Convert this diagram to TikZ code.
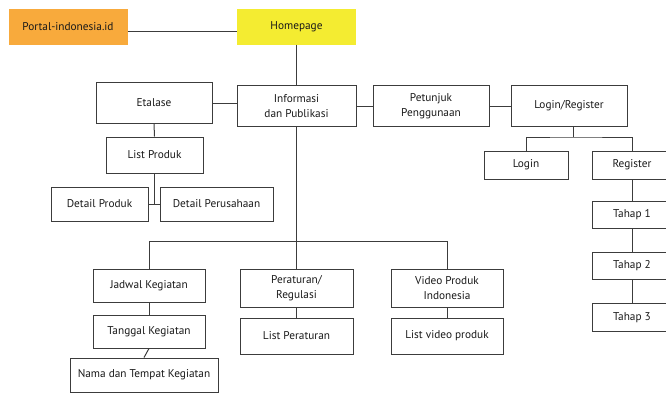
\documentclass[tikz,border=0pt]{standalone}
\usepackage{fontspec}
\setmainfont{PT Sans}
\usetikzlibrary{positioning}
\definecolor{portalorange}{HTML}{F8AA3C}
\definecolor{homeyellow}{HTML}{F4EC31}
\definecolor{linegray}{HTML}{3C3C3C}

\begin{document}
\begin{tikzpicture}[x=1pt, y=-1pt,
        box/.style={draw=linegray, line width=1pt, inner sep=0pt, align=center, text=black!90, font=\fontsize{11.3}{14.5}\selectfont},
        link/.style={draw=linegray, line width=1pt}]
        \useasboundingbox (0,0) rectangle (666,392);
        % top row
        \node[box, draw=portalorange, fill=portalorange, minimum width=118pt, minimum height=35pt] (portal) at (68,26.5) {Portal-indonesia.id};
        \node[box, draw=homeyellow, fill=homeyellow, minimum width=118pt, minimum height=35pt] (home) at (296.5,26.5) {Homepage};
        % second row
        \node[box, minimum width=116pt, minimum height=41pt] (etalase) at (154,103) {Etalase};
        \node[box, minimum width=119pt, minimum height=41pt] (info) at (296.5,106) {Informasi\\dan Publikasi};
        \node[box, minimum width=116pt, minimum height=41pt] (petunjuk) at (431,106) {Petunjuk\\Penggunaan};
        \node[box, minimum width=116pt, minimum height=41pt] (loginreg) at (569,106) {Login/Register};
        % login / register
        \node[box, minimum width=84pt, minimum height=28pt] (login) at (526,165) {Login};
        \node[box, minimum width=80pt, minimum height=28pt] (register) at (632,165) {Register};
        \node[box, minimum width=80pt, minimum height=27pt] (tahap1) at (632,214.5) {Tahap 1};
        \node[box, minimum width=80pt, minimum height=27pt] (tahap2) at (632,266) {Tahap 2};
        \node[box, minimum width=80pt, minimum height=28pt] (tahap3) at (632,317.5) {Tahap 3};
        % etalase
        \node[box, minimum width=97pt, minimum height=36pt] (listproduk) at (154.5,155) {List Produk};
        \node[box, minimum width=97pt, minimum height=34pt] (detailproduk) at (99.5,204) {Detail Produk};
        \node[box, minimum width=113pt, minimum height=34pt] (detailperusahaan) at (216.5,204) {Detail Perusahaan};
        % informasi dan publikasi
        \node[box, minimum width=112pt, minimum height=33pt] (jadwal) at (149,285.5) {Jadwal Kegiatan};
        \node[box, minimum width=112pt, minimum height=33pt] (tanggal) at (149,331.5) {Tanggal Kegiatan};
        \node[box, minimum width=148pt, minimum height=34pt] (nama) at (144,375) {Nama dan Tempat Kegiatan};
        \node[box, minimum width=113pt, minimum height=38pt] (peraturan) at (296.5,288) {Peraturan/\\Regulasi};
        \node[box, minimum width=113pt, minimum height=36pt] (listperaturan) at (296.5,336) {List Peraturan};
        \node[box, minimum width=112pt, minimum height=38pt] (video) at (447,288) {Video Produk\\Indonesia};
        \node[box, minimum width=112pt, minimum height=36pt] (listvideo) at (447,336) {List video produk};

        % connectors
        \draw[link] ([yshift=-5pt]portal.east) -- ([yshift=-5pt]home.west);
        \draw[link] (home.south) -- (info.north);
        \draw[link] (etalase.east) -- (info.west |- etalase.east);
        \draw[link] (info.east) -- (petunjuk.west);
        \draw[link] (petunjuk.east) -- (loginreg.west);
        \draw[link] ([xshift=4pt]loginreg.south) -- ++(0,10) coordinate (lrj);
        \draw[link] (login.north) |- (lrj) -| (register.north);
        \draw[link] (register.south) -- (tahap1.north);
        \draw[link] (tahap1.south) -- (tahap2.north);
        \draw[link] (tahap2.south) -- (tahap3.north);
        \draw[link] (etalase.south) -- (listproduk.north);
        \draw[link] (listproduk.south) -- (listproduk.south |- detailproduk.east);
        \draw[link] (detailproduk.east) -- (detailperusahaan.west);
        \draw[link] (info.south) -- (peraturan.north);
        \draw[link] (jadwal.north) -- ++(0,-27) -| (video.north);
        \draw[link] (jadwal.south) -- (tanggal.north);
        \draw[link] (tanggal.south) -- (nama.north);
        \draw[link] (peraturan.south) -- (listperaturan.north);
        \draw[link] (video.south) -- (listvideo.north);
    \end{tikzpicture}
\end{document}
